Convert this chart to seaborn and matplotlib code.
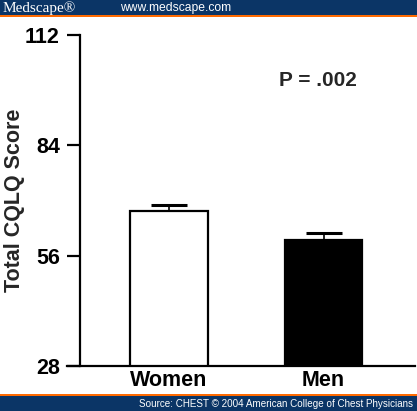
import numpy as np
import pandas as pd
import matplotlib
matplotlib.use("Agg")
import matplotlib.pyplot as plt
import seaborn as sns
from matplotlib.patches import Rectangle

# ---- data ----
groups = ["Women", "Men"]
means = [67.4, 60.0]
sem = [1.5, 1.8]
yticks = [28, 56, 84, 112]
p_text = "P = .002"
ylabel = "Total CQLQ Score"
bar_colors = ["white", "black"]

sns.set_theme(style="white")
plt.rcParams["font.family"] = ["Liberation Sans", "DejaVu Sans"]

df = pd.DataFrame({"group": groups, "score": means})

fig = plt.figure(figsize=(4.17, 4.11), dpi=100)
fig.patch.set_facecolor("white")
ax = fig.add_axes([80/417, 1-366/411, (415-80)/417, (366-35)/411])

sns.barplot(data=df, x="group", y="score", hue="group", palette=bar_colors,
            order=groups, hue_order=groups, legend=False, width=0.5,
            edgecolor="black", linewidth=1.6, ax=ax, errorbar=None)

eb = ax.errorbar(np.arange(len(groups)), means, yerr=[np.zeros(len(groups)), sem],
                 fmt="none", ecolor="black", elinewidth=1.2, capsize=13, capthick=2.2,
                 zorder=1)
# hide the lower caps (one-sided error bars)
eb[1][0].set_visible(False)

ax.set_ylim(28, 112)
ax.set_xlim(-0.576, 1.592)
ax.set_yticks(yticks)
ax.set_yticklabels([str(t) for t in yticks], fontsize=15.5, fontweight="bold")
ax.set_xticks(range(len(groups)))
ax.set_xticklabels(groups, fontsize=15.5, fontweight="bold")
ax.set_xlabel("")
ax.set_ylabel(ylabel, fontsize=15.5, fontweight="bold")
ax.yaxis.set_label_coords((25 - 80) / 335, 0.5)

for s in ["top", "right"]:
    ax.spines[s].set_visible(False)
for s in ["left", "bottom"]:
    ax.spines[s].set_color("black")
    ax.spines[s].set_linewidth(1.6)
ax.tick_params(axis="y", direction="out", length=9.5, width=1.6, pad=5,
               colors="black", left=True)
ax.tick_params(axis="x", length=0, pad=3, colors="black")
ax.spines["bottom"].set_bounds(-0.576 - 13/154.5, 1.592)
ax.spines["bottom"].set_clip_on(False)

ax.text(0.709, 0.864, p_text, transform=ax.transAxes, fontsize=15,
        fontweight="bold", ha="center", va="center")

# header and footer bands
navy = "#0b3566"
orange = "#ff6a00"
fig.add_artist(Rectangle((0, 1-15/411), 1, 15/411, transform=fig.transFigure,
                         facecolor=navy, edgecolor="none"))
fig.add_artist(Rectangle((0, 1-17/411), 1, 2/411, transform=fig.transFigure,
                         facecolor=orange, edgecolor="none"))
fig.add_artist(Rectangle((0, 0), 1, 15/411, transform=fig.transFigure,
                         facecolor=navy, edgecolor="none"))
fig.add_artist(Rectangle((0, 15/411), 1, 2/411, transform=fig.transFigure,
                         facecolor=orange, edgecolor="none"))

fig.text(3/417, 1-8/411, "Medscape®", family=["Liberation Serif", "DejaVu Serif"],
         fontsize=11, color="white", ha="left", va="center")
fig.text(120/417, 1-8/411, "www.medscape.com", fontsize=8.7, color="white",
         ha="left", va="center")
fig.text(413/417, 7.5/411, "Source: CHEST © 2004 American College of Chest Physicians",
         fontsize=7.15, color="white", ha="right", va="center")

fig.savefig("out.png", dpi=100)
